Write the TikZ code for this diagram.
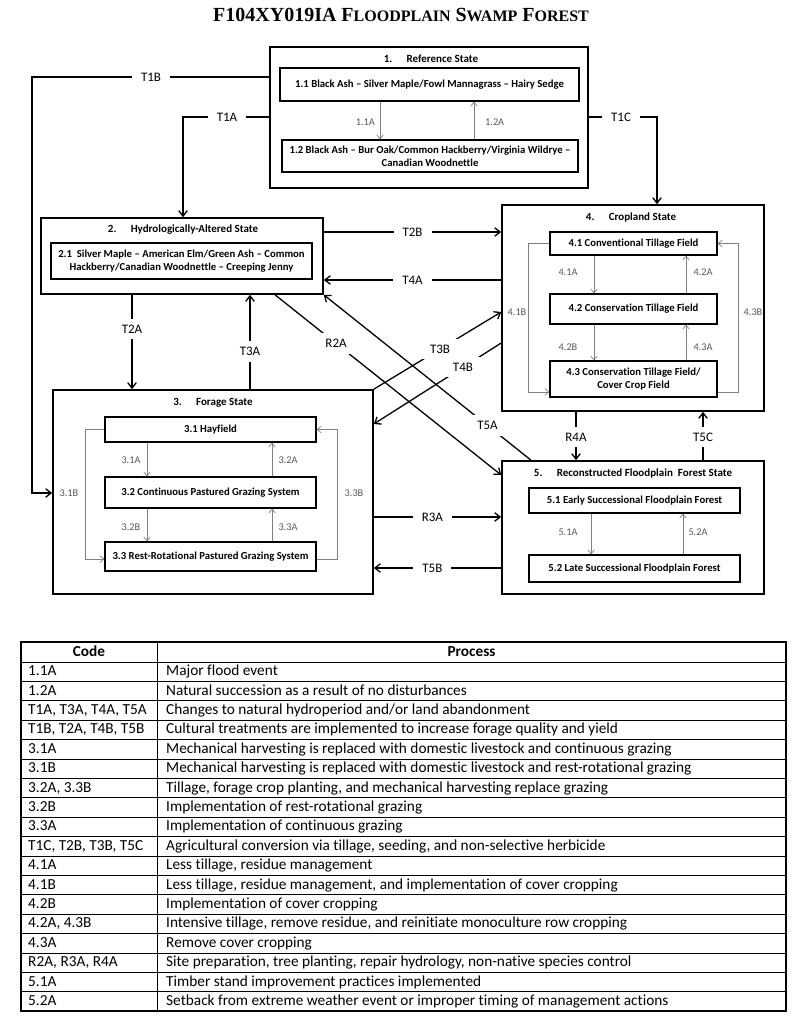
\documentclass[tikz,border=0pt]{standalone}
\usepackage{fontspec}
\setmainfont{Carlito}[Ligatures={NoCommon}]
\newfontfamily\titlefont{Liberation Serif}
\usetikzlibrary{arrows.meta,calc}
\newcommand\mysc[1]{{\fontsize{16}{19}\selectfont #1}}
\begin{document}
\begin{tikzpicture}[x=1pt,y=-1pt,
  statebox/.style={draw, line width=1.6pt, inner sep=0pt},
  subbox/.style={draw, line width=1.1pt, inner sep=0pt, align=center,
    font=\fontsize{10.7}{13}\selectfont\bfseries},
  statetitle/.style={inner sep=0pt, font=\fontsize{11}{13}\selectfont\bfseries},
  tarrow/.style={line width=1.3pt, -{Straight Barb[length=5.5pt,width=8.5pt,line width=1.3pt]}},
  tlbl/.style={fill=white, inner xsep=9pt, inner ysep=6pt, font=\fontsize{13}{15}\selectfont},
  grayarrow/.style={line width=0.7pt, draw=black!50, -{Straight Barb[length=4pt,width=6.5pt,line width=0.7pt]}},
  ilbl/.style={inner sep=0pt, text=black!65, font=\fontsize{10.3}{12}\selectfont},
  tabtext/.style={inner sep=0pt, anchor=west, text height=10pt, text depth=3pt, font=\fontsize{15.3}{18}\selectfont},
  tabhead/.style={inner sep=0pt, text height=10pt, text depth=3pt, font=\fontsize{15.3}{18}\selectfont\bfseries},
]
\fill[white] (0,0) rectangle (800,1024);
\useasboundingbox (0,0) rectangle (800,1024);

% title
\node[inner sep=0pt, font=\titlefont\bfseries\fontsize{20}{24}\selectfont] (title) at (401,15)
  {F104XY019IA F\mysc{LOODPLAIN} S\mysc{WAMP} F\mysc{OREST}};

% ---------- state 1
\node[statebox, minimum width=318, minimum height=141] (s1) at (429,117.5) {};
\node[statetitle] (s1t) at (431,59) {1.\hspace{1.3em}Reference State};
\node[subbox, minimum width=299, minimum height=33] (r11) at (429.5,84.5)
  {1.1 Black Ash -- Silver Maple/Fowl Mannagrass -- Hairy Sedge};
\node[subbox, minimum width=296, minimum height=32] (r12) at (430,156)
  {1.2 Black Ash -- Bur Oak/Common Hackberry/Virginia Wildrye --\\Canadian Woodnettle};

% ---------- state 2
\node[statebox, minimum width=282, minimum height=76] (s2) at (182,256) {};
\node[statetitle] (s2t) at (183,230) {2.\hspace{1.3em}Hydrologically-Altered State};
\node[subbox, minimum width=261, minimum height=36] (h21) at (181.5,261)
  {2.1\ \ Silver Maple -- American Elm/Green Ash -- Common\\Hackberry/Canadian Woodnettle -- Creeping Jenny};

% ---------- state 3
\node[statebox, minimum width=320, minimum height=204] (s3) at (213,492) {};
\node[statetitle] (s3t) at (213,403) {3.\hspace{1.3em}Forage State};
\node[subbox, minimum width=211, minimum height=25] (f31) at (210.5,429.5) {3.1 Hayfield};
\node[subbox, minimum width=211, minimum height=31] (f32) at (210.5,492.5) {3.2 Continuous Pastured Grazing System};
\node[subbox, minimum width=211, minimum height=29] (f33) at (210.5,556.5) {3.3 Rest-Rotational Pastured Grazing System};

% ---------- state 4
\node[statebox, minimum width=262, minimum height=206] (s4) at (633,308) {};
\node[statetitle] (s4t) at (631,218) {4.\hspace{1.3em}Cropland State};
\node[subbox, minimum width=167, minimum height=23] (c41) at (633.5,243.5) {4.1 Conventional Tillage Field};
\node[subbox, minimum width=167, minimum height=30] (c42) at (633.5,309) {4.2 Conservation Tillage Field};
\node[subbox, minimum width=167, minimum height=36] (c43) at (633.5,379) {4.3 Conservation Tillage Field/\\Cover Crop Field};

% ---------- state 5
\node[statebox, minimum width=262, minimum height=133] (s5) at (633,527.5) {};
\node[statetitle] (s5t) at (633,474) {5.\hspace{1.3em}Reconstructed Floodplain\ \ Forest State};
\node[subbox, minimum width=211, minimum height=25] (r51) at (634.5,500.5) {5.1 Early Successional Floodplain Forest};
\node[subbox, minimum width=211, minimum height=27] (r52) at (634.5,568.5) {5.2 Late Successional Floodplain Forest};

% ---------- inner gray transitions
\draw[grayarrow] (r11.south -| 380,0) -- (r12.north -| 380,0);
\draw[grayarrow] (r12.north -| 474,0) -- (r11.south -| 474,0);
\node[ilbl, anchor=east] (l11a) at (375,122) {1.1A};
\node[ilbl, anchor=west] (l12a) at (485,122) {1.2A};

\draw[grayarrow] (c41.south -| 594,0) -- (c42.north -| 594,0);
\draw[grayarrow] (c42.north -| 686,0) -- (c41.south -| 686,0);
\draw[grayarrow] (c42.south -| 594,0) -- (c43.north -| 594,0);
\draw[grayarrow] (c43.north -| 686,0) -- (c42.south -| 686,0);
\draw[grayarrow] (c41.west) -| (528,392) -- (c43.west |- 0,392);
\draw[grayarrow] (c43.east |- 0,392) -| (738,243.5) -- (c41.east);
\node[ilbl] (l41a) at (568,272) {4.1A};
\node[ilbl] (l42a) at (703,272) {4.2A};
\node[ilbl] (l42b) at (568,347) {4.2B};
\node[ilbl] (l43a) at (703,347) {4.3A};
\node[ilbl] (l41b) at (517,312) {4.1B};
\node[ilbl] (l43b) at (753,312) {4.3B};

\draw[grayarrow] (f31.south -| 147,0) -- (f32.north -| 147,0);
\draw[grayarrow] (f32.north -| 272,0) -- (f31.south -| 272,0);
\draw[grayarrow] (f32.south -| 147,0) -- (f33.north -| 147,0);
\draw[grayarrow] (f33.north -| 272,0) -- (f32.south -| 272,0);
\draw[grayarrow] (f31.west) -| (85,559) -- (f33.west |- 0,559);
\draw[grayarrow] (f33.east |- 0,559) -| (337,429.5) -- (f31.east);
\node[ilbl] (l31a) at (131,460) {3.1A};
\node[ilbl] (l32a) at (288,460) {3.2A};
\node[ilbl] (l32b) at (131,527) {3.2B};
\node[ilbl] (l33a) at (288,527) {3.3A};
\node[ilbl] (l31b) at (69,493) {3.1B};
\node[ilbl] (l33b) at (354,493) {3.3B};

\draw[grayarrow] (r51.south -| 591,0) -- (r52.north -| 591,0);
\draw[grayarrow] (r52.north -| 683,0) -- (r51.south -| 683,0);
\node[ilbl] (l51a) at (568,532) {5.1A};
\node[ilbl] (l52a) at (698,532) {5.2A};

% ---------- transitions between states
\coordinate (b1b) at (32,493);
\coordinate (b1a) at (183,117);
\coordinate (b1c) at (657,117);
\draw[tarrow] (s1.west |- 0,77) -| (b1b) -- (s3.west |- b1b);
\draw[tarrow] (s1.west |- b1a) -- (b1a) -- (s2.north -| b1a);
\draw[tarrow] (s1.east |- b1c) -- (b1c) -- (s4.north -| b1c);
\node[tlbl] (t1b) at (151,77) {T1B};
\node[tlbl] (t1a) at (227,117) {T1A};
\node[tlbl] (t1c) at (621,117) {T1C};

\draw[tarrow] (s2.east |- 0,232) -- node[tlbl] (t2b) {T2B} (s4.west |- 0,232);
\draw[tarrow] (s4.west |- 0,280) -- node[tlbl] (t4a) {T4A} (s2.east |- 0,280);
\draw[tarrow] (s2.south -| 132,0) -- node[tlbl, pos=0.36] (t2a) {T2A} (s3.north -| 132,0);
\draw[tarrow] (s3.north -| 250,0) -- node[tlbl, pos=0.40] (t3a) {T3A} (s2.south -| 250,0);
\draw[tarrow] (s2.south -| 275,0) -- node[tlbl, pos=0.27] (r2a) {R2A} (s5.west |- 0,475);
\draw[tarrow] (s5.north -| 531,0) -- node[tlbl, pos=0.21] (t5a) {T5A} (s2.south east);
\draw[tarrow] (s3.north east) -- node[tlbl, pos=0.52] (t3b) {T3B} (s4.west |- 0,312);
\draw[tarrow] (s4.west |- 0,343) -- node[tlbl, pos=0.30] (t4b) {T4B} (s3.east |- 0,424);
\draw[tarrow] (s3.east |- 0,517) -- node[tlbl, pos=0.46] (r3a) {R3A} (s5.west |- 0,517);
\draw[tarrow] (s5.west |- 0,568) -- node[tlbl, pos=0.54] (t5b) {T5B} (s3.east |- 0,568);
\draw[tarrow] (s4.south -| 576,0) -- node[tlbl, pos=0.52] (r4a) {R4A} (s5.north -| 576,0);
\draw[tarrow] (s5.north -| 703,0) -- node[tlbl, pos=0.48] (t5c) {T5C} (s4.south -| 703,0);

% ---------- table
\def\rh{19.4}
\draw[line width=1.2pt] (21,642) rectangle (786,1011);
\draw[line width=0.9pt] (157,642) -- (157,1011);
\foreach \i in {0,...,17} {
  \draw[line width=0.9pt] (21,662+\rh*\i) -- (786,662+\rh*\i);
}
\node[tabhead] (hcode) at (89,652.5) {Code};
\node[tabhead] (hproc) at (471.5,652.5) {Process};
\foreach [count=\i from 0] \c/\p in {
  1.1A/Major flood event,
  1.2A/Natural succession as a result of no disturbances,
  {T1A, T3A, T4A, T5A}/Changes to natural hydroperiod and\slash or land abandonment,
  {T1B, T2A, T4B, T5B}/Cultural treatments are implemented to increase forage quality and yield,
  3.1A/Mechanical harvesting is replaced with domestic livestock and continuous grazing,
  3.1B/Mechanical harvesting is replaced with domestic livestock and rest-rotational grazing,
  {3.2A, 3.3B}/{Tillage, forage crop planting, and mechanical harvesting replace grazing},
  3.2B/Implementation of rest-rotational grazing,
  3.3A/Implementation of continuous grazing,
  {T1C, T2B, T3B, T5C}/{Agricultural conversion via tillage, seeding, and non-selective herbicide},
  4.1A/{Less tillage, residue management},
  4.1B/{Less tillage, residue management, and implementation of cover cropping},
  4.2B/Implementation of cover cropping,
  {4.2A, 4.3B}/{Intensive tillage, remove residue, and reinitiate monoculture row cropping},
  4.3A/Remove cover cropping,
  {R2A, R3A, R4A}/{Site preparation, tree planting, repair hydrology, non-native species control},
  5.1A/Timber stand improvement practices implemented,
  5.2A/Setback from extreme weather event or improper timing of management actions} {
  \node[tabtext] (code\i) at (28,662.5+\rh*\i+\rh/2) {\c};
  \node[tabtext] (proc\i) at (166,662.5+\rh*\i+\rh/2) {\p};
}
\end{tikzpicture}
\end{document}
